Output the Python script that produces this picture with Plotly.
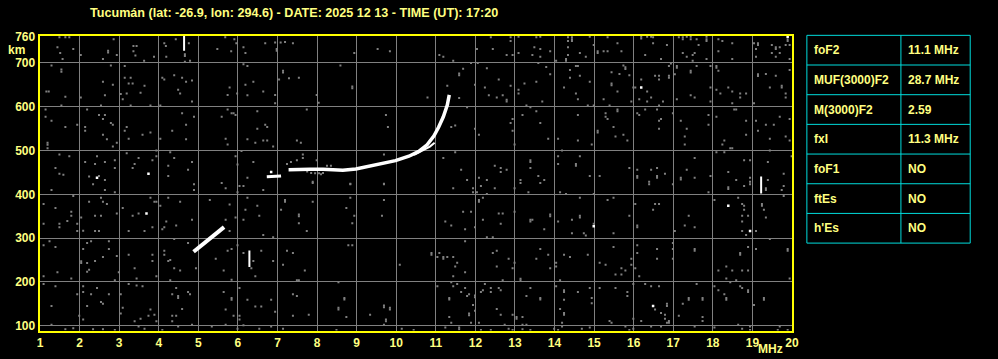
import plotly.graph_objects as go

# ---------------- data ----------------
title_text = "Tucumán (lat: -26.9, lon: 294.6) - DATE: 2025 12 13 - TIME (UT): 17:20"
freq_ticks = list(range(1, 21))
height_ticks = [100, 200, 300, 400, 500, 600, 700, 760]

# F2 ordinary trace (MHz, km)
f2_freq = [7.28, 7.55, 7.82, 8.15, 8.45, 8.65, 8.98, 9.32, 9.65, 9.98, 10.32, 10.57, 10.78, 10.95, 11.07, 11.19, 11.29, 11.34]
f2_height = [456, 457, 457, 457, 456, 455, 458, 465, 470, 477, 487, 498, 513, 533, 553, 577, 604, 627]
# second (lower) branch near the cusp
f2b_freq = [10.45, 10.65, 10.85, 10.97]
f2b_height = [490, 499, 509, 518]
# short segment before F2
seg_freq = [6.73, 7.09]
seg_height = [440, 442]
# lower oblique segment
low_freq = [4.88, 5.65]
low_height = [269, 325]
# vertical white echoes: frequency, bottom, top
vbar_freq = [6.29, 4.64, 19.22]
vbar_bottom = [234, 728, 402]
vbar_top = [272, 762, 441]

# isolated white dots
white_dots = [(2.44, 438), (3.74, 447), (3.69, 356), (16.19, 644), (18.39, 374), (18.94, 316),
              (14.99, 327), (16.49, 145), (19.89, 760), (6.84, 451)]

# grey noise dots (MHz, km)
noise_points = [
    (1.49, 759), (1.64, 759), (1.74, 759), (2.86, 754), (1.44, 736), (1.51, 723), (1.84, 732), (1.57, 709),
    (2.03, 718), (2.72, 724), (2.72, 728), (2.94, 718), (2.59, 709), (3.36, 739), (3.44, 739), (3.36, 727), (3.41, 717),
    (3.63, 705), (3.88, 714), (4.14, 745), (4.18, 739), (4.19, 714), (4.43, 754), (4.76, 745), (4.66, 720),
    (4.66, 716), (4.79, 705), (4.66, 703), (5.48, 732), (5.68, 759), (5.91, 754), (5.96, 745), (5.83, 727),
    (6.14, 736), (6.19, 723), (6.69, 745), (6.94, 747), (6.98, 732), (6.98, 728), (7.08, 747), (7.19, 748), (7.39, 745),
    (1.29, 694), (1.54, 685), (1.54, 680), (2.79, 694), (3.14, 693), (1.16, 635), (1.22, 635), (1.64, 623), (2.03, 621),
    (2.59, 657), (2.84, 650), (2.64, 626), (3.14, 666), (3.29, 666), (3.24, 653), (3.34, 653), (3.64, 648),
    (3.04, 629), (3.19, 630), (3.09, 617), (3.54, 632), (4.09, 666), (4.14, 662), (4.39, 672), (4.59, 666),
    (4.69, 657), (4.84, 660), (4.49, 639), (4.54, 630), (4.84, 612), (6.14, 697), (6.24, 693), (5.79, 644),
    (5.74, 627), (5.98, 630), (6.19, 650), (6.39, 657), (6.24, 626), (6.64, 635), (6.94, 627), (6.94, 608),
    (7.14, 682), (7.14, 678), (7.04, 662), (7.29, 665), (2.54, 603), (3.29, 603), (3.79, 603), (4.04, 603), (1.54, 603),
    (1.14, 594), (1.14, 577), (1.29, 568), (1.64, 554), (1.94, 559), (2.19, 594), (2.49, 581), (2.64, 581),
    (2.59, 572), (2.14, 554), (2.14, 545), (2.84, 559), (2.79, 563), (2.59, 536), (2.69, 526), (2.94, 518),
    (2.84, 509), (1.19, 518), (1.19, 513), (1.19, 505), (3.19, 554), (3.14, 545), (3.24, 527), (3.59, 536),
    (3.79, 541), (4.04, 527), (4.34, 545), (4.59, 585), (4.69, 559), (4.89, 577), (4.69, 526), (5.74, 594),
    (5.59, 577), (5.84, 585), (5.89, 585), (5.94, 581), (5.69, 527), (5.74, 514), (6.24, 526), (6.49, 590),
    (6.49, 550), (6.69, 559), (6.74, 554), (6.44, 518), (6.64, 523), (6.74, 523), (6.89, 509),
    (1.49, 491), (1.74, 487), (1.39, 460), (1.49, 447), (1.59, 445), (2.44, 487), (2.14, 474), (2.39, 469),
    (2.64, 474), (2.89, 478), (2.89, 460), (2.24, 441), (2.49, 442), (2.64, 433), (3.19, 494), (3.49, 483),
    (3.39, 469), (3.34, 460), (3.94, 500), (3.94, 487), (3.84, 478), (4.29, 496), (4.39, 483), (4.24, 465),
    (4.74, 456), (4.24, 442), (4.84, 474), (5.94, 487), (6.09, 499), (5.99, 468), (6.39, 474), (6.24, 438),
    (7.24, 469), (7.34, 474),
    (8.94, 723), (9.53, 732), (9.84, 727), (8.59, 694), (7.54, 666), (8.89, 642), (8.89, 646), (7.99, 627), (8.04, 609),
    (7.74, 594), (9.74, 581), (9.79, 554), (10.79, 621), (11.09, 718), (11.19, 714), (11.44, 705), (11.59, 672),
    (11.59, 676), (11.69, 687), (11.89, 700), (12.06, 700), (11.29, 648), (11.59, 620), (11.79, 599), (11.39, 554), (11.49, 557),
    (11.99, 650), (12.04, 732), (12.39, 759), (12.44, 732), (12.29, 688), (12.59, 662), (12.24, 644),
    (12.34, 626), (12.54, 621), (12.69, 626), (12.79, 612), (12.79, 616), (12.89, 648), (12.89, 759), (12.89, 750),
    (12.79, 718), (12.94, 718), (13.09, 760), (13.09, 723), (13.24, 653), (13.09, 639), (13.09, 630),
    (13.54, 759), (13.64, 760), (13.49, 736), (13.64, 732), (13.44, 718), (13.64, 714), (13.59, 700),
    (13.79, 691), (13.54, 657), (13.69, 612), (13.89, 727), (13.89, 674), (13.29, 603), (13.39, 599),
    (13.54, 590), (12.94, 572), (12.89, 563), (12.94, 545), (13.19, 581), (13.64, 563), (13.84, 527),
    (12.09, 536), (11.99, 550), (12.99, 514), (11.19, 483), (11.49, 496), (9.69, 491), (7.49, 523),
    (7.59, 518), (7.64, 491), (7.64, 483), (7.49, 478), (7.99, 478), (11.64, 456), (11.79, 433), (12.09, 438),
    (12.29, 433), (12.49, 465), (12.64, 460), (12.64, 451), (12.79, 456), (13.39, 478), (13.39, 474), (13.39, 460),
    (13.59, 442), (13.74, 433), (13.14, 433), (9.69, 424), (8.84, 424), (7.89, 429),
    (7.85, 449), (7.95, 448), (8.05, 448), (8.15, 449), (8.1, 446), (7.75, 452), (8.25, 465), (8.35, 465),
    (14.34, 759), (14.44, 759), (14.44, 754), (14.44, 750), (14.34, 750), (14.34, 736), (14.89, 760), (15.34, 759), (15.59, 745),
    (14.99, 741), (15.09, 727), (15.09, 723), (15.24, 727), (15.34, 727), (15.69, 727), (14.64, 723),
    (14.79, 714), (14.34, 718), (14.29, 709), (14.29, 705), (14.04, 705), (16.19, 760), (16.19, 756), (16.34, 760), (16.44, 760),
    (16.49, 759), (16.49, 745), (16.84, 741), (16.29, 718), (16.69, 709), (17.14, 759), (17.24, 759),
    (17.24, 754), (17.34, 760), (17.44, 760), (17.44, 754), (17.59, 754), (17.84, 760), (17.84, 754), (17.84, 750), (17.64, 741),
    (17.24, 723), (17.34, 714), (17.54, 723), (17.49, 718), (17.84, 709), (17.49, 705), (18.14, 754),
    (18.24, 750), (18.49, 745), (18.14, 727), (18.49, 709), (19.04, 745), (19.14, 745), (19.14, 741),
    (19.09, 732), (19.09, 714), (19.49, 741), (19.59, 736), (19.59, 732), (19.69, 736), (19.49, 723),
    (19.59, 714), (19.69, 723), (19.84, 741), (19.89, 750), (19.89, 754), (19.94, 741), (19.94, 709),
    (14.54, 693), (14.59, 693), (14.39, 684), (14.39, 666), (14.64, 671), (14.89, 657), (14.24, 644),
    (14.54, 630), (14.59, 617), (14.84, 603), (14.99, 603), (15.44, 679), (15.64, 675), (15.44, 653), (15.44, 649),
    (15.74, 694), (15.79, 690), (15.79, 686), (15.89, 672), (15.59, 635), (15.24, 617), (15.39, 603), (15.94, 612),
    (15.99, 644), (16.04, 644), (16.19, 662), (16.34, 635), (16.44, 621), (16.34, 612), (16.14, 617),
    (16.54, 671), (16.64, 671), (16.64, 662), (16.74, 612), (16.64, 603), (16.89, 671), (16.89, 666), (17.04, 674),
    (16.89, 693), (16.94, 699), (17.09, 693), (17.09, 689), (17.44, 682), (17.44, 678), (17.59, 693), (17.09, 617), (17.44, 626),
    (17.54, 621), (17.94, 693), (18.09, 693), (18.09, 689), (18.14, 682), (18.09, 639), (18.19, 630), (18.39, 644),
    (18.49, 635), (18.69, 630), (18.84, 630), (18.69, 621), (18.49, 608), (17.94, 644), (17.94, 612),
    (19.14, 674), (19.14, 670), (19.34, 675), (19.59, 671), (19.44, 644), (19.74, 648), (19.74, 644), (19.84, 630), (19.84, 621),
    (19.04, 608), (19.94, 684),
    (14.59, 581), (15.29, 585), (15.29, 577), (15.34, 572), (15.59, 594), (15.59, 590), (15.49, 554), (15.09, 545), (15.09, 541),
    (14.09, 527), (14.59, 523), (14.94, 514), (15.54, 532), (15.74, 536), (15.84, 523), (16.09, 585),
    (16.14, 581), (16.29, 594), (16.59, 594), (16.69, 572), (16.64, 568), (16.64, 550), (16.99, 585),
    (17.19, 568), (17.34, 550), (17.29, 532), (17.29, 514), (17.89, 581), (17.89, 559), (18.09, 577),
    (18.54, 594), (18.59, 594), (18.84, 568), (18.84, 536), (18.29, 523), (18.24, 514), (18.44, 505),
    (18.49, 505), (19.09, 568), (19.14, 545), (19.34, 559), (19.54, 559), (19.69, 577), (19.94, 572),
    (19.44, 527), (19.84, 532), (19.94, 523),
    (14.09, 487), (14.09, 469), (14.19, 500), (14.64, 487), (14.54, 469), (14.54, 465), (14.89, 442), (15.14, 442),
    (15.89, 460), (16.09, 456), (16.09, 442), (16.09, 438), (16.44, 456), (16.59, 460), (16.59, 442), (16.59, 438), (16.79, 447),
    (16.39, 429), (17.19, 438), (17.19, 434), (17.34, 456), (17.54, 483), (17.54, 438), (17.94, 442), (18.09, 496),
    (18.29, 496), (18.39, 451), (18.59, 433), (18.79, 478), (18.94, 478), (18.94, 438), (18.94, 429),
    (19.39, 474), (19.39, 433), (19.79, 447), (19.99, 487), (19.44, 500),
    (1.29, 410), (1.84, 396), (2.34, 423), (2.64, 410), (2.89, 405), (1.09, 378), (1.39, 369), (1.79, 360),
    (1.79, 351), (1.69, 339), (1.94, 333), (1.09, 333), (1.49, 333), (1.49, 325), (2.04, 347), (1.94, 316),
    (2.09, 317), (2.39, 316), (2.49, 316), (2.54, 392), (2.59, 383), (2.69, 378), (2.24, 383), (2.39, 351),
    (2.54, 351), (2.94, 356), (3.09, 369), (3.34, 351), (3.49, 356), (3.79, 392), (3.89, 383), (3.94, 383),
    (3.24, 316), (3.64, 316), (3.84, 325), (4.04, 374), (4.24, 392), (4.54, 383), (4.89, 423), (4.89, 410),
    (5.29, 387), (5.59, 426), (5.69, 414), (5.79, 377), (4.19, 338), (4.09, 320), (4.14, 325), (4.44, 329),
    (4.84, 342), (5.94, 347), (5.79, 316), (5.69, 342), (6.04, 419), (6.14, 419), (5.99, 405), (6.24, 392),
    (6.49, 374), (6.19, 365), (6.54, 351), (6.14, 342), (6.64, 410), (7.19, 387), (7.19, 383), (7.09, 365), (6.89, 302),
    (6.64, 307),
    (1.09, 284), (1.39, 280), (1.24, 293), (1.09, 213), (1.44, 222), (1.79, 208), (2.04, 247), (2.04, 243), (2.19, 289),
    (2.29, 293), (2.09, 275), (2.19, 243), (2.24, 228), (2.19, 223), (2.39, 248), (2.74, 293), (2.74, 275),
    (2.59, 257), (2.94, 259), (2.99, 222), (2.89, 204), (3.24, 262), (3.39, 231), (3.44, 208), (3.84, 262),
    (3.84, 248), (3.94, 213), (4.14, 271), (4.24, 248), (4.29, 250), (4.14, 262), (4.39, 298), (4.39, 231),
    (4.54, 226), (4.29, 204), (4.74, 289), (4.94, 231), (5.44, 253), (5.64, 226), (5.74, 271), (5.84, 275),
    (5.99, 284), (6.14, 266), (6.39, 248), (6.59, 271), (6.44, 213), (6.34, 231), (6.89, 248), (7.24, 271),
    (7.39, 266), (7.14, 239), (5.84, 205),
    (1.09, 195), (1.39, 190), (2.09, 190), (2.44, 186), (2.29, 172), (2.09, 177), (1.94, 172), (2.74, 172),
    (2.54, 154), (2.59, 150), (2.19, 145), (1.99, 123), (2.09, 114), (1.29, 145), (3.04, 172), (3.24, 195),
    (3.44, 192), (3.59, 190), (3.09, 141), (3.04, 128), (3.39, 110), (3.54, 116), (3.79, 137), (3.89, 125),
    (3.74, 123), (3.94, 110), (4.34, 172), (4.44, 186), (4.49, 168), (4.49, 163), (4.74, 177), (4.79, 172),
    (4.59, 138), (4.34, 123), (4.44, 123), (4.34, 110), (5.64, 177), (5.84, 163), (5.84, 159), (5.69, 137),
    (5.89, 123), (6.04, 186), (6.24, 159), (6.44, 144), (6.59, 144), (6.04, 123), (6.04, 114), (6.84, 159),
    (6.94, 132), (7.39, 172), (7.39, 123),
    (1.29, 102), (1.64, 92), (1.84, 94), (2.34, 92), (2.59, 92), (2.89, 90), (3.49, 98), (3.64, 93), (4.09, 90),
    (4.49, 98), (4.84, 102), (5.34, 98), (5.69, 102), (5.99, 93), (6.14, 101), (6.54, 93), (6.84, 98), (7.14, 93),
    (7.89, 426), (8.84, 423), (9.69, 423), (7.89, 383), (8.84, 392), (9.69, 387), (7.54, 354), (7.54, 350), (7.54, 334),
    (7.74, 316), (8.74, 369), (8.94, 351), (8.89, 334), (9.64, 351), (11.44, 414), (11.94, 414), (11.94, 405),
    (12.04, 405), (12.14, 419), (12.19, 392), (12.29, 401), (12.09, 387), (12.09, 383), (12.49, 414),
    (12.99, 414), (13.14, 426), (13.34, 405), (13.64, 426), (11.69, 360), (11.89, 360), (11.24, 338),
    (11.39, 329), (11.74, 320), (12.19, 342), (12.59, 356), (12.69, 356), (12.64, 333), (12.99, 360),
    (13.39, 342), (13.44, 342), (13.39, 338), (13.74, 320), (13.89, 354), (13.89, 350), (12.29, 302), (12.44, 302),
    (11.99, 325),
    (8.79, 284), (8.89, 284), (7.69, 226), (7.49, 204), (7.54, 204), (10.09, 239), (10.89, 266), (10.89, 262),
    (11.09, 266), (11.04, 257), (11.19, 257), (11.19, 253), (11.29, 257), (11.44, 257), (11.54, 244), (11.49, 235),
    (11.44, 213), (11.74, 293), (11.74, 222), (12.44, 266), (12.54, 271), (12.54, 235), (12.84, 253),
    (12.94, 231), (12.99, 244), (13.14, 207), (13.14, 203), (12.69, 204), (13.64, 275), (13.54, 253), (13.84, 262),
    (13.89, 231),
    (7.49, 168), (8.54, 199), (8.69, 163), (8.69, 160), (8.54, 141), (8.54, 137), (7.79, 125), (8.74, 120), (9.34, 125),
    (9.69, 146), (9.69, 142), (9.84, 141), (9.84, 137), (9.74, 114), (9.74, 110), (9.69, 102), (11.04, 190), (11.39, 199), (11.54, 195),
    (11.44, 190), (11.74, 186), (11.64, 177), (11.79, 168), (11.84, 172), (11.99, 169), (11.99, 165), (11.94, 147),
    (11.99, 134), (11.84, 128), (11.84, 124), (11.34, 163), (11.34, 160), (11.34, 120), (11.39, 107), (12.14, 177),
    (12.24, 195), (12.19, 181), (12.39, 186), (12.39, 177), (12.59, 186), (12.64, 181), (12.54, 138),
    (12.64, 125), (12.94, 125), (13.04, 120), (13.04, 116), (12.74, 102), (13.29, 168), (13.39, 186), (13.64, 163),
    (13.64, 160), (13.19, 120), (11.89, 107), (12.09, 107),
    (8.49, 90), (10.14, 93), (10.44, 90), (11.24, 96), (11.59, 96), (11.59, 92), (12.14, 90), (12.39, 90), (12.84, 93),
    (12.94, 90), (13.19, 102), (13.29, 102), (13.19, 92), (13.39, 90),
    (14.14, 405), (14.29, 401), (14.64, 392), (14.99, 401), (15.34, 387), (15.49, 392), (16.39, 423),
    (16.99, 423), (16.04, 378), (16.54, 378), (16.64, 378), (16.49, 365), (17.89, 405), (18.04, 387),
    (18.39, 416), (18.39, 412), (18.79, 419), (18.94, 423), (18.64, 392), (18.74, 378), (18.79, 374), (18.74, 351),
    (18.89, 351), (18.79, 365), (18.74, 338), (19.24, 378), (19.24, 374), (19.29, 365), (19.34, 347), (19.34, 414),
    (19.34, 410), (19.74, 410), (19.79, 419), (19.79, 396), (14.09, 338), (14.44, 342), (14.64, 351), (14.64, 347), (14.99, 333),
    (14.44, 311), (14.74, 311), (14.79, 306), (15.49, 311), (15.89, 351), (16.09, 329), (16.09, 325),
    (17.04, 316), (17.29, 329), (17.54, 325), (17.39, 351), (18.74, 316), (18.84, 307), (19.09, 316),
    (14.04, 244), (14.04, 235), (14.24, 262), (14.39, 257), (14.84, 262), (15.14, 244), (15.29, 239),
    (15.49, 280), (15.54, 217), (15.69, 217), (15.69, 231), (15.79, 226), (15.94, 253), (15.94, 239),
    (16.04, 231), (16.14, 213), (16.09, 284), (16.09, 266), (16.59, 275), (16.59, 253), (16.99, 289),
    (16.99, 275), (16.99, 253), (17.54, 275), (17.54, 271), (18.14, 226), (18.34, 235), (18.34, 208),
    (18.49, 226), (18.59, 204), (18.74, 226), (18.89, 226), (18.89, 280), (18.69, 266), (18.69, 262),
    (19.09, 275), (19.44, 298), (19.89, 275), (19.89, 271), (19.94, 208),
    (14.04, 190), (14.14, 204), (14.24, 181), (14.24, 177), (14.59, 177), (14.89, 186), (14.94, 163),
    (14.94, 151), (14.24, 159), (14.14, 138), (14.24, 129), (14.24, 125), (15.14, 186), (15.54, 186),
    (15.84, 177), (15.84, 168), (15.99, 195), (16.29, 195), (16.44, 190), (16.64, 190), (16.54, 137),
    (16.69, 129), (16.79, 125), (16.84, 150), (16.84, 145), (16.79, 116), (16.84, 107), (16.89, 107), (16.89, 111),
    (16.19, 111), (15.99, 116), (15.39, 111), (15.44, 107), (17.14, 123), (17.24, 150), (17.39, 163),
    (17.39, 159), (17.59, 195), (17.74, 163), (17.74, 159), (17.74, 120), (17.74, 111), (18.04, 190),
    (18.14, 181), (18.29, 172), (18.34, 163), (18.34, 159), (18.44, 199), (18.69, 190), (18.74, 186),
    (18.89, 181), (18.89, 177), (19.29, 163), (19.29, 159), (19.04, 147), (18.64, 102),
    (14.19, 107), (14.19, 98), (13.99, 93), (14.09, 90), (14.69, 93), (14.89, 96), (15.79, 98), (15.99, 93),
    (15.89, 90), (16.44, 98), (16.69, 98), (17.54, 98), (18.04, 96), (18.74, 93), (18.94, 98), (18.94, 90),
    (19.69, 98), (19.89, 90), (19.64, 90),
]

table_params = ["foF2", "MUF(3000)F2", "M(3000)F2", "fxI", "foF1", "ftEs", "h'Es"]
table_values = ["11.1 MHz", "28.7 MHz", "2.59", "11.3 MHz", "NO", "NO", "NO"]

# ---------------- style ----------------
W, H = 998, 359
TXT = "#ffff80"
BORDER = "#ffff00"
GREY = "#808080"
CYAN = "#00dcdc"
FONT = dict(family="Liberation Sans, Arial, sans-serif", size=12, color=TXT, weight="bold")
TITLE_FONT = dict(FONT, size=12.6)

fig = go.Figure()

# noise
fig.add_trace(go.Scatter(
    x=[p[0] for p in noise_points], y=[p[1] for p in noise_points], mode="markers",
    marker=dict(symbol="square", size=2, color=GREY, line=dict(width=0)),
    hoverinfo="skip", showlegend=False))

# traces
def add_line(xs, ys, width):
    fig.add_trace(go.Scatter(x=xs, y=ys, mode="lines", line=dict(color="white", width=width),
                             hoverinfo="skip", showlegend=False))

add_line(f2_freq, f2_height, 3.5)
add_line(f2b_freq, f2b_height, 2)
add_line(seg_freq, seg_height, 3)
add_line(low_freq, low_height, 4)
for f, b, t in zip(vbar_freq, vbar_bottom, vbar_top):
    add_line([f, f], [b, t], 2)

fig.add_trace(go.Scatter(
    x=[p[0] for p in white_dots], y=[p[1] for p in white_dots], mode="markers",
    marker=dict(symbol="square", size=2.5, color="white", line=dict(width=0)),
    hoverinfo="skip", showlegend=False))

# ---------------- parameter table (shapes + text) ----------------
tx0, tx1, tdiv = 812, 977, 907
ty0, ty1 = 30, 242.5
nrows = len(table_params)
rh = (ty1 - ty0) / nrows
shapes = []
def px(xp):
    return xp / W
def py(yp):
    return 1 - yp / H
shapes.append(dict(type="rect", xref="paper", yref="paper", x0=px(tx0), x1=px(tx1),
                   y0=py(ty1), y1=py(ty0), line=dict(color=CYAN, width=1), fillcolor="black"))
shapes.append(dict(type="line", xref="paper", yref="paper", x0=px(tdiv), x1=px(tdiv),
                   y0=py(ty1), y1=py(ty0), line=dict(color=CYAN, width=1)))
annotations = []
for i, (name, val) in enumerate(zip(table_params, table_values)):
    top = ty0 + i * rh
    if i > 0:
        shapes.append(dict(type="line", xref="paper", yref="paper", x0=px(tx0), x1=px(tx1),
                           y0=py(top), y1=py(top), line=dict(color=CYAN, width=1)))
    yc = py(top + rh / 2)
    annotations.append(dict(text=name, x=px(tx0 + 5), y=yc, xref="paper", yref="paper",
                            xanchor="left", yanchor="middle", showarrow=False, font=FONT))
    annotations.append(dict(text=val, x=px(tdiv + 5), y=yc, xref="paper", yref="paper",
                            xanchor="left", yanchor="middle", showarrow=False, font=FONT))

annotations += [
    dict(text=title_text, x=294 / W, y=1 - 7 / H, xref="paper", yref="paper",
         xanchor="center", yanchor="middle", showarrow=False, font=TITLE_FONT),
    dict(text="km", x=13.5 / W, y=1 - 45 / H, xref="paper", yref="paper",
         xanchor="center", yanchor="middle", showarrow=False, font=FONT),
    dict(text="MHz", x=790 / W, y=1 - 351 / H, xref="paper", yref="paper",
         xanchor="right", yanchor="middle", showarrow=False, font=FONT),
]

x0, x1 = 37, 797
y0, y1 = 30.5, 332
fig.update_layout(
    width=W, height=H,
    margin=dict(l=0, r=0, t=0, b=0),
    paper_bgcolor="black", plot_bgcolor="black",
    showlegend=False,
    xaxis=dict(domain=[x0 / W, x1 / W], range=[0.99, 20.0],
               tickmode="array", tickvals=freq_ticks, ticktext=[str(v) for v in freq_ticks],
               showgrid=False, zeroline=False, ticks="", tickfont=FONT,
               showline=True, mirror=True, linecolor=BORDER, linewidth=2,
               minor=dict(tickmode="array", tickvals=freq_ticks[1:-1], showgrid=True,
                          gridcolor=GREY, gridwidth=1, ticks="")),
    yaxis=dict(domain=[(H - y1) / H, (H - y0) / H], range=[88.8, 762],
               tickmode="array", tickvals=height_ticks, ticktext=[str(v) for v in height_ticks],
               showgrid=False, zeroline=False, ticks="", tickfont=FONT,
               showline=True, mirror=True, linecolor=BORDER, linewidth=2,
               minor=dict(tickmode="array", tickvals=height_ticks[:-1], showgrid=True,
                          gridcolor=GREY, gridwidth=1, ticks="")),
    shapes=shapes,
    annotations=annotations,
)

fig.write_html("out.html")
